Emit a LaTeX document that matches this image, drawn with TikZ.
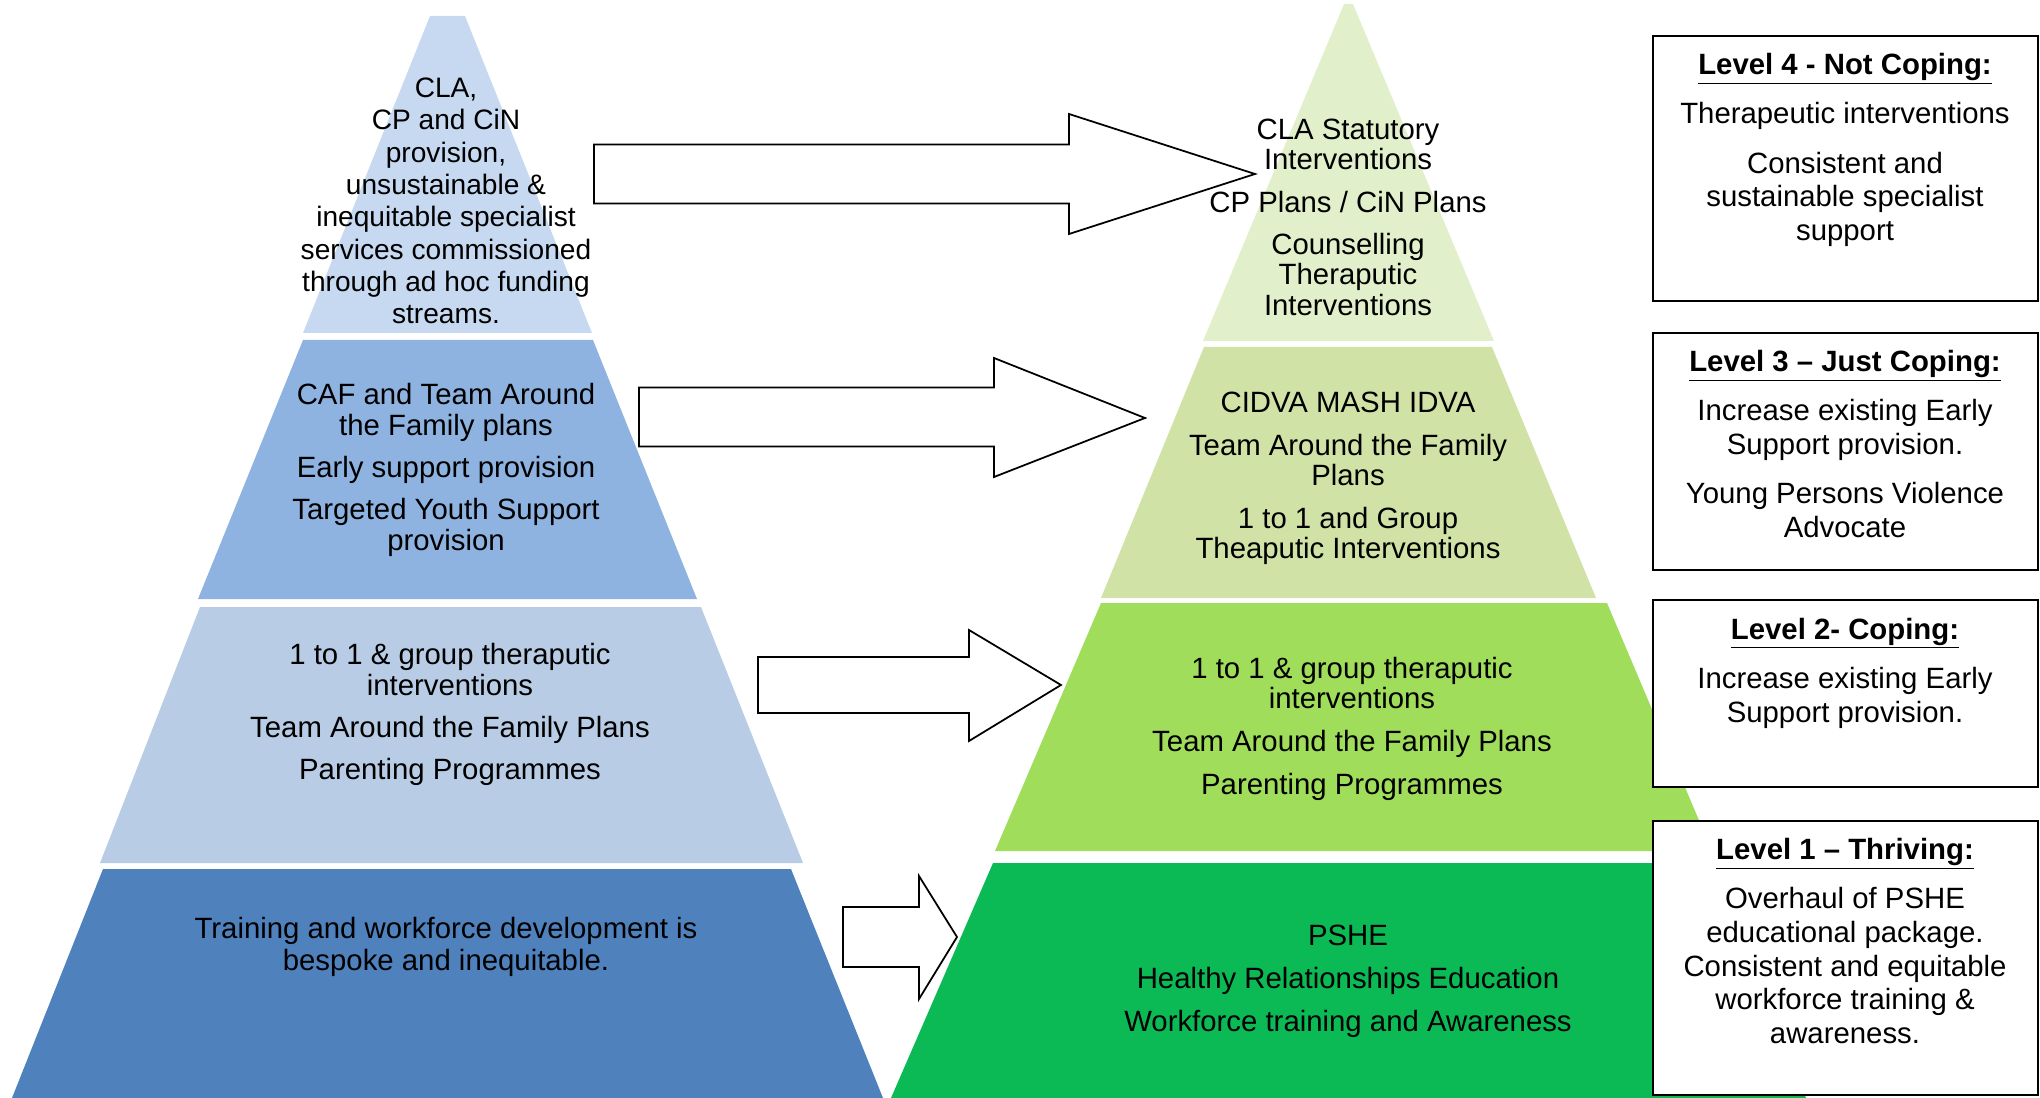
\documentclass[tikz,border=0pt]{standalone}
\usepackage{fontspec}
\setmainfont{Liberation Sans}
\usepackage{tikz}

% tier colours, level 4 (top) down to level 1 (bottom)
\definecolor{bluefour}{HTML}{C6D9F1}
\definecolor{bluethree}{HTML}{8EB3E1}
\definecolor{bluetwo}{HTML}{B8CDE5}
\definecolor{blueone}{HTML}{4F81BD}
\definecolor{greenfour}{HTML}{E1F0CB}
\definecolor{greenthree}{HTML}{D1E2A6}
\definecolor{greentwo}{HTML}{A0DD5A}
\definecolor{greenone}{HTML}{0BBA55}

\newcommand{\levelhead}[1]{\textbf{\underline{#1}}}

\tikzset{
  bluetext/.style={align=center, inner sep=0pt, font=\fontsize{16.7}{18}\selectfont},
  greentext/.style={align=center, inner sep=0pt, font=\fontsize{16.7}{17.1}\selectfont},
  boxtext/.style={align=center, inner sep=0pt, font=\fontsize{16.7}{19.2}\selectfont},
  levelbox/.style={draw=black, fill=white, line width=1.3pt},
  blockarrow/.style={draw=black, fill=white, line width=1pt, line join=miter}
}

\begin{document}
\begin{tikzpicture}[x=0.02cm,y=-0.02cm]
          \useasboundingbox (0,0) rectangle (2040,1098);

          % current provision
          \fill[bluefour] (430,16) -- (465,16) -- (592,333) -- (303,333) -- cycle;
          \fill[bluethree] (303,340) -- (593,340) -- (697,599) -- (198,599) -- cycle;
          \fill[bluetwo] (200,607) -- (701,607) -- (803,863) -- (100,863) -- cycle;
          \fill[blueone] (103,869) -- (791,869) -- (883,1098) -- (12,1098) -- cycle;

          \node[bluetext, font=\fontsize{16}{18.4}\selectfont] (nowfour) at (446,201) {CLA,\\CP and CiN\\provision,\\unsustainable \&\\inequitable specialist\\services commissioned\\through ad hoc funding\\streams.};
          \node[bluetext] (nowthree) at (446,470) {CAF and Team Around\\the Family plans\\[5.7pt]Early support provision\\[5.7pt]Targeted Youth Support\\provision};
          \node[bluetext] (nowtwo) at (450,714) {1 to 1 \& group theraputic\\interventions\\[5.7pt]Team Around the Family Plans\\[5.7pt]Parenting Programmes};
          \node[bluetext] (nowone) at (446,947) {Training and workforce development is\\bespoke and inequitable.};

          % future provision
          \fill[greenfour] (1344,4) -- (1353,4) -- (1494,341) -- (1203,341) -- cycle;
          \fill[greenthree] (1204,347) -- (1492,347) -- (1596,598) -- (1101,598) -- cycle;
          \fill[greentwo] (1101,603) -- (1607,603) -- (1712,851) -- (995,851) -- cycle;
          \fill[greenone] (993,863) -- (1705,863) -- (1806,1098) -- (891,1098) -- cycle;

          \node[greentext] (newfour) at (1348,217) {CLA Statutory\\Interventions\\[7.3pt]CP Plans / CiN Plans\\[7.3pt]Counselling\\Theraputic\\Interventions};
          \node[greentext] (newthree) at (1348,478) {CIDVA MASH IDVA\\[7.3pt]Team Around the Family\\Plans\\[7.3pt]1 to 1 and Group\\Theaputic Interventions};
          \node[greentext] (newtwo) at (1352,729) {1 to 1 \& group theraputic\\interventions\\[7.3pt]Team Around the Family Plans\\[7.3pt]Parenting Programmes};
          \node[greentext] (newone) at (1348,981) {PSHE\\[7.3pt]Healthy Relationships Education\\[7.3pt]Workforce training and Awareness};

          % block arrows between the two pyramids
          \draw[blockarrow] (594,144.5) -- (1069,144.5) -- (1069,114) -- (1255,174) -- (1069,234) -- (1069,203.5) -- (594,203.5) -- cycle;
          \draw[blockarrow] (639,387.5) -- (994,387.5) -- (994,358) -- (1145,418) -- (994,477) -- (994,446.5) -- (639,446.5) -- cycle;
          \draw[blockarrow] (758,657) -- (969,657) -- (969,630) -- (1061,685) -- (969,741) -- (969,713) -- (758,713) -- cycle;
          \draw[blockarrow] (843,907) -- (919,907) -- (919,876) -- (957,937) -- (919,999) -- (919,967) -- (843,967) -- cycle;

          % level boxes
          \draw[levelbox] (1653,36) rectangle (2038,301);
          \draw[levelbox] (1653,333) rectangle (2038,570);
          \draw[levelbox] (1653,600) rectangle (2038,787);
          \draw[levelbox] (1653,821) rectangle (2038,1095);

          \node[boxtext] (levelfour) at (1845,150) {\levelhead{Level 4 - Not Coping:}\\[8.9pt]Therapeutic interventions\\[8.9pt]Consistent and\\sustainable specialist\\support};
          \node[boxtext] (levelthree) at (1845,444) {\levelhead{Level 3 – Just Coping:}\\[8.9pt]Increase existing Early\\Support provision.\\[8.9pt]Young Persons Violence\\Advocate};
          \node[boxtext] (leveltwo) at (1845,673) {\levelhead{Level 2- Coping:}\\[8.9pt]Increase existing Early\\Support provision.};
          \node[boxtext] (levelone) at (1845,941) {\levelhead{Level 1 – Thriving:}\\[8.9pt]Overhaul of PSHE\\educational package.\\Consistent and equitable\\workforce training \&\\awareness.};
\end{tikzpicture}
\end{document}
